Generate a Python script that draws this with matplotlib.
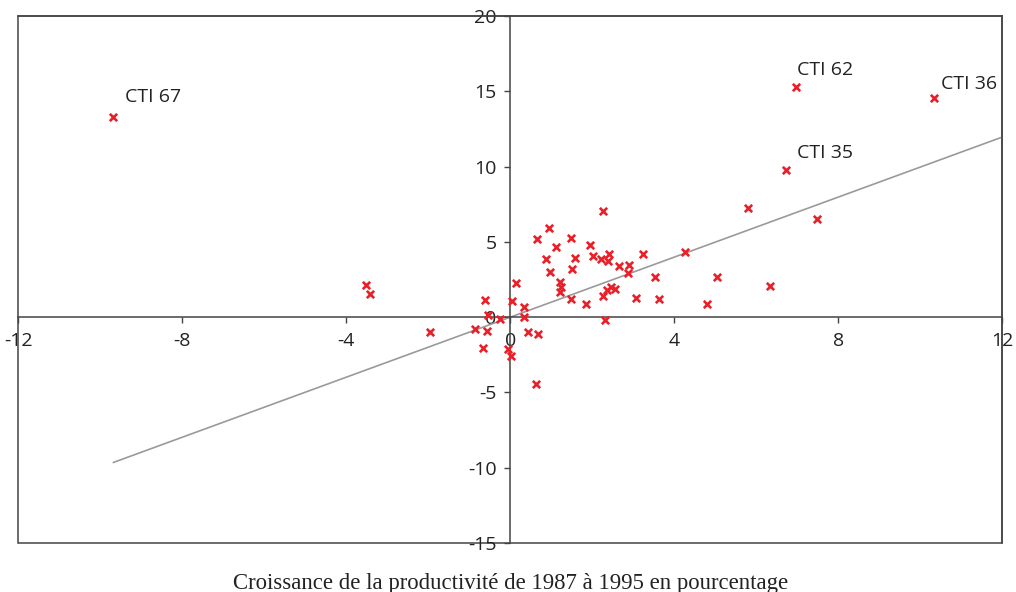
#!/usr/bin/env python3
"""Scatter of productivity growth 1987-1995 with fitted line and CTI labels."""

import matplotlib
matplotlib.use("Agg")
import matplotlib.pyplot as plt
from matplotlib.patches import Rectangle
import numpy as np

# Data
x_vals = [-9.68, 6.97, 10.32, 6.72, 5.79, 7.48, 2.27, 0.93, 0.66, 1.48,
          1.11, 1.94, 2.02, 0.88, 1.58, 2.22, 2.41, 2.38, 3.24, 4.27,
          0.97, 1.50, 2.64, 2.89, 2.87, 3.53, 5.04, 6.33, 0.14, 1.22,
          1.24, 1.20, 1.47, 2.46, 2.55, 2.36, 2.27, 3.07, 3.62, 4.80,
          1.85, 2.31, -0.63, 0.04, 0.32, 0.33, -0.26, -0.54, -0.86, -0.58,
          0.43, 0.68, -0.67, -0.06, 0.01, 0.62, -1.97, -3.52, -3.42]
y_vals = [13.29, 15.29, 14.54, 9.77, 7.27, 6.50, 7.05, 5.90, 5.19, 5.28,
          4.68, 4.77, 4.08, 3.84, 3.93, 3.86, 4.18, 3.73, 4.22, 4.33,
          3.02, 3.22, 3.38, 3.45, 2.93, 2.67, 2.69, 2.09, 2.25, 2.32,
          2.03, 1.69, 1.23, 1.99, 1.89, 1.81, 1.43, 1.29, 1.23, 0.90,
          0.86, -0.17, 1.11, 1.08, 0.68, 0.03, -0.10, 0.15, -0.76, -0.90,
          -0.96, -1.12, -2.03, -2.13, -2.56, -4.44, -1.00, 2.14, 1.56]

label_names = ["CTI 67", "CTI 62", "CTI 36", "CTI 35"]
label_idx = [0, 1, 2, 3]
label_offsets = [(8.5, 14.5), (0.8, 12.5), (5, 10), (8, 12.5)]

fit_slope = 0.997
fit_intercept = 0.0
fit_range = [-9.68, 12.0]

x_ticks = [-12, -8, -4, 0, 4, 8, 12]
y_ticks = [-15, -10, -5, 0, 5, 10, 15, 20]
x_title = "Croissance de la productivité de 1987 à 1995 en pourcentage"

plt.rcParams['font.family'] = ['Open Sans', 'DejaVu Sans']

fig = plt.figure(figsize=(10.16, 5.92), dpi=100)
ax = fig.add_axes([0.018, 0.0828, 0.9687, 0.8902])

axis_color = "#444444"

# fitted line
fx = np.array(fit_range)
ax.plot(fx, fit_slope * fx + fit_intercept, color="#9a9a9a", lw=1.2, zorder=2)

# points
ax.scatter(x_vals, y_vals, marker="x", s=28, linewidths=1.9,
           color="#e8202a", zorder=3)

for name, i, off in zip(label_names, label_idx, label_offsets):
    ax.annotate(name, (x_vals[i], y_vals[i]), xytext=off,
                textcoords="offset points", ha="left", va="center",
                fontsize=14, color="#222222")

ax.set_xlim(-12, 12)
ax.set_ylim(-15, 20)
ax.set_xticks(x_ticks)
ax.set_yticks(y_ticks)
ax.set_xticklabels([str(t) for t in x_ticks])
ax.set_yticklabels([str(t) for t in y_ticks])

# axes crossing at origin
ax.spines['left'].set_position(('data', 0))
ax.spines['bottom'].set_position(('data', 0))
for s in ax.spines.values():
    s.set_color(axis_color)
    s.set_linewidth(1.1)
ax.add_patch(Rectangle((0, 0), 1, 1, transform=ax.transAxes, fill=False,
                       edgecolor=axis_color, lw=1.1, clip_on=False, zorder=1))

ax.tick_params(axis='both', direction='out', length=4, width=1,
               color=axis_color, labelsize=14, labelcolor="#222222")
ax.tick_params(axis='x', pad=7)
ax.tick_params(axis='y', pad=6)

fig.text(0.503, 1 - 583 / 592, x_title, ha="center", va="center",
         family="Liberation Serif", fontsize=16.4, color="#222222")

fig.savefig("out.png", dpi=100)
